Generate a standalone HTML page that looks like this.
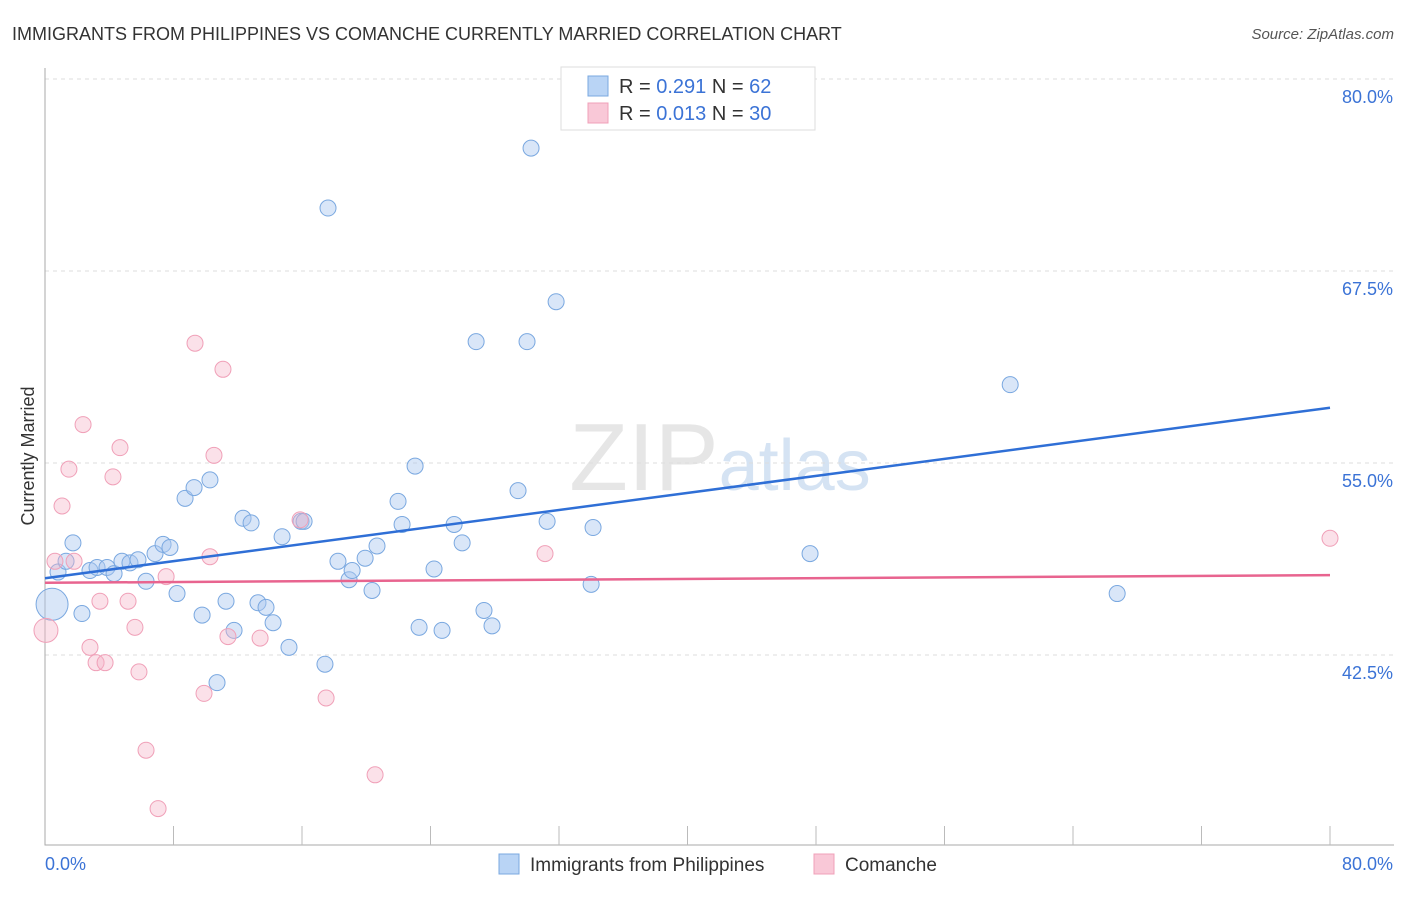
<!DOCTYPE html>
<html><head><meta charset="utf-8"><style>
body{margin:0;background:#fff;font-family:"Liberation Sans",sans-serif;}
svg text{font-family:"Liberation Sans",sans-serif;}
</style></head><body>
<svg id="c" width="1406" height="892" xmlns="http://www.w3.org/2000/svg">
<text x="12" y="40" font-size="18" fill="#333">IMMIGRANTS FROM PHILIPPINES VS COMANCHE CURRENTLY MARRIED CORRELATION CHART</text>
<text x="1394" y="39" font-size="15" fill="#555" font-style="italic" text-anchor="end">Source: ZipAtlas.com</text>
<text x="720" y="490" font-size="96" fill="#e6e6e6" text-anchor="middle" font-family="Liberation Serif">ZIP<tspan fill="#d5e3f3" font-family="Liberation Sans" font-size="72">atlas</tspan></text>
<text transform="translate(34,456) rotate(-90)" font-size="18" fill="#333" text-anchor="middle">Currently Married</text>
<g id="grid"></g><g id="axes"></g><g id="pts"></g><g id="lines"></g>
<g>
<rect x="561" y="67" width="254" height="63" fill="#fff" stroke="#ddd"/>
<rect x="588" y="76" width="20" height="20" fill="#b9d4f5" stroke="#7aa8e0"/>
<rect x="588" y="103" width="20" height="20" fill="#f9c8d7" stroke="#f0a0b8"/>
<text x="619" y="93" font-size="20" fill="#333">R = <tspan fill="#3b73d6">0.291</tspan>   N = <tspan fill="#3b73d6">62</tspan></text>
<text x="619" y="120" font-size="20" fill="#333">R = <tspan fill="#3b73d6">0.013</tspan>   N = <tspan fill="#3b73d6">30</tspan></text>
</g>
<g>
<rect x="499" y="854" width="20" height="20" fill="#b9d4f5" stroke="#7aa8e0"/>
<text x="530" y="871" font-size="19" fill="#333">Immigrants from Philippines</text>
<rect x="814" y="854" width="20" height="20" fill="#f9c8d7" stroke="#f0a0b8"/>
<text x="845" y="871" font-size="19" fill="#333">Comanche</text>
</g>
</svg>
<script>
const blueX=[0.44,0.81,1.31,1.74,2.30,2.80,3.24,3.86,4.30,4.79,5.29,5.79,6.29,6.85,7.35,7.78,8.22,8.72,9.28,9.78,10.27,10.71,11.27,11.77,12.33,12.83,13.26,13.76,14.20,14.76,15.19,15.94,16.13,17.43,17.62,18.24,18.93,19.12,19.93,20.36,20.67,21.98,22.23,23.04,23.29,24.22,24.72,25.47,25.97,26.84,27.33,27.83,29.45,30.01,30.26,31.26,31.82,34.00,34.12,47.63,60.09,66.75];
const blueY=[45.8,47.9,48.6,49.8,45.2,48.0,48.2,48.2,47.8,48.6,48.5,48.7,47.3,49.1,49.7,49.5,46.5,52.7,53.4,45.1,53.9,40.7,46.0,44.1,51.4,51.1,45.9,45.6,44.6,50.2,43.0,51.2,51.2,41.9,71.6,48.6,47.4,48.0,48.8,46.7,49.6,52.5,51.0,54.8,44.3,48.1,44.1,51.0,49.8,62.9,45.4,44.4,53.2,62.9,75.5,51.2,65.5,47.1,50.8,49.1,60.1,46.5];
const pinkX=[0.06,0.62,1.06,1.49,1.81,2.37,2.80,3.18,3.42,3.74,4.23,4.67,5.17,5.60,5.85,6.29,7.04,7.54,9.34,9.90,10.27,10.52,11.08,11.39,13.39,15.88,17.50,20.55,31.13,80.0];
const pinkY=[44.1,48.6,52.2,54.6,48.6,57.5,43.0,42.0,46.0,42.0,54.1,56.0,46.0,44.3,41.4,36.3,32.5,47.6,62.8,40.0,48.9,55.5,61.1,43.7,43.6,51.3,39.7,34.7,49.1,50.1];
const blueLine=[47.5,58.6];
const pinkLine=[47.2,47.7];
const yTicks=[80,67.5,55,42.5];
const yTickLabels=["80.0%","67.5%","55.0%","42.5%"];
const xTicks=[0,8,16,24,32,40,48,56,64,72,80];
const NS="http://www.w3.org/2000/svg";
const sx=v=>45+v*1285/80, sy=v=>79+(80-v)*15.36;
function mk(p,t,a){const e=document.createElementNS(NS,t);for(const k in a)e.setAttribute(k,a[k]);document.getElementById(p).appendChild(e);return e;}
yTicks.forEach((v,i)=>{
 const l=mk('grid','line',{x1:45,x2:1394,y1:sy(v),y2:sy(v),stroke:'#ddd','stroke-dasharray':'4,4'});
 
 
 const t=mk('grid','text',{x:1393,y:sy(v)+24,'font-size':18,fill:'#3b73d6','text-anchor':'end'});t.textContent=yTickLabels[i];
 
 
});
const ax=mk('axes','path',{d:'M45,68V845H1394',stroke:'#aaa',fill:'none'});


xTicks.forEach(v=>{if(v===0)return;const t=mk('axes','line',{x1:sx(v),x2:sx(v),y1:826,y2:845,stroke:'#bbb'});
 
 });
let t1=mk('axes','text',{x:45,y:870,'font-size':18,fill:'#3b73d6'});t1.textContent='0.0%';


let t2=mk('axes','text',{x:1393,y:870,'font-size':18,fill:'#3b73d6','text-anchor':'end'});t2.textContent='80.0%';


blueX.forEach((x,i)=>{const c=mk('pts','circle',{cx:sx(x),cy:sy(blueY[i]),r:i===0?16:8,fill:'rgba(170,200,240,0.45)',stroke:'#7aa8e0','stroke-width':1});
 
 });
pinkX.forEach((x,i)=>{const c=mk('pts','circle',{cx:sx(x),cy:sy(pinkY[i]),r:i===0?12:8,fill:'rgba(246,180,200,0.4)',stroke:'#f0a0b8','stroke-width':1});
 
 });
const bl=mk('lines','line',{x1:sx(0),y1:sy(blueLine[0]),x2:sx(80),y2:sy(blueLine[1]),stroke:'#2f6fd6','stroke-width':2.5});


const pl=mk('lines','line',{x1:sx(0),y1:sy(pinkLine[0]),x2:sx(80),y2:sy(pinkLine[1]),stroke:'#e8648f','stroke-width':2.5});


</script>
</body></html>
